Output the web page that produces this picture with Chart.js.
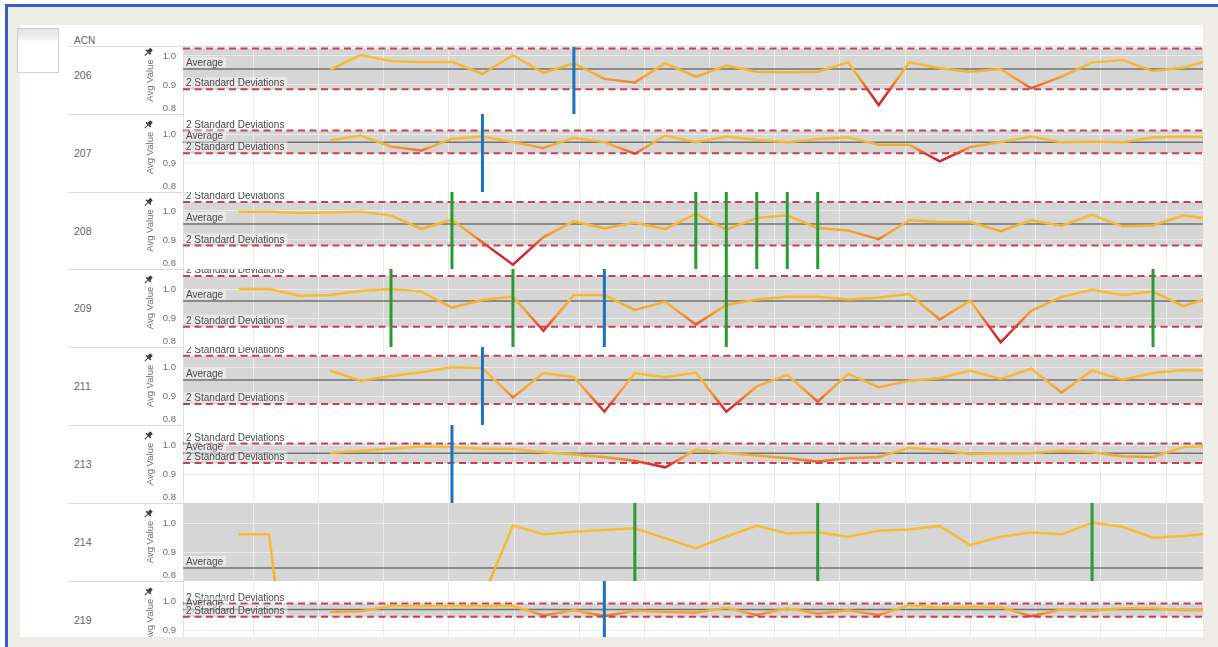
<!DOCTYPE html>
<html><head><meta charset="utf-8">
<script src="https://cdn.jsdelivr.net/npm/chart.js@4.4.1/dist/chart.umd.min.js"></script>
<style>
html,body{margin:0;padding:0;background:#fff;}
body{width:1218px;height:647px;position:relative;overflow:hidden;font-family:"Liberation Sans",Arial,sans-serif;}
#frame{position:absolute;left:5px;top:4px;width:1213px;height:643px;background:#efede8;border-left:3px solid #3b5cc4;border-top:3px solid #3b5cc4;box-sizing:border-box;}
#panel{position:absolute;left:20px;top:25px;width:1183px;height:612px;background:#fff;}
#bottomcover{position:absolute;left:8px;top:637px;width:1210px;height:10px;background:#efede8;z-index:10;}
#box{position:absolute;left:17px;top:28px;width:42px;height:45px;border:1px solid #d0d0d0;background:linear-gradient(#e2e2e2 0,#f2f2f2 10px,#fff 12px);box-sizing:border-box;}
.lbl{position:absolute;font-size:10.5px;color:#666;line-height:12px;white-space:nowrap;}
.sep{position:absolute;left:68px;height:1px;background:#dcdcdc;}
canvas{position:absolute;left:140px;}
</style></head><body>
<div id="frame"></div>
<div id="panel"></div>
<div id="bottomcover"></div>
<div id="box"></div>
<div class="lbl" style="left:74px;top:35px;font-size:10px;">ACN</div>
<script>
// ---------- data ----------
const ACN = ['206','207','208','209','211','213','214','219'];
const S206 = [null,null,null,0.952,1.003,0.983,0.979,0.980,0.938,1.003,0.942,0.975,0.921,0.909,0.975,0.929,0.967,0.946,0.944,0.946,0.978,0.831,0.978,0.958,0.946,0.955,0.889,0.929,0.978,0.986,0.948,0.960,0.990];
const S207 = [null,null,null,0.978,0.995,0.957,0.943,0.983,0.991,0.972,0.952,0.987,0.972,0.932,0.995,0.972,0.991,0.980,0.972,0.983,0.989,0.963,0.963,0.906,0.955,0.972,0.991,0.972,0.974,0.972,0.989,0.991,0.990];
const S208 = [0.997,0.997,0.993,0.995,0.997,0.985,0.938,0.970,0.892,0.815,0.910,0.964,0.941,0.959,0.938,0.990,0.936,0.976,0.985,0.941,0.933,0.903,0.968,0.962,0.962,0.930,0.968,0.949,0.987,0.947,0.950,0.985,0.970];
const S209 = [1.000,1.000,0.977,0.979,0.993,1.000,0.991,0.936,0.962,0.974,0.856,0.979,0.979,0.928,0.956,0.878,0.945,0.964,0.973,0.973,0.964,0.971,0.983,0.895,0.960,0.816,0.925,0.973,0.997,0.979,0.991,0.941,0.975];
const S211 = [null,null,null,0.988,0.953,0.969,0.982,0.999,0.996,0.895,0.979,0.965,0.846,0.979,0.965,0.981,0.846,0.933,0.973,0.881,0.976,0.930,0.953,0.961,0.988,0.959,0.994,0.912,0.988,0.956,0.979,0.990,0.987];
const S213 = [null,null,null,0.972,0.980,0.987,0.995,0.993,0.987,0.986,0.975,0.967,0.959,0.946,0.923,0.984,0.972,0.964,0.955,0.943,0.955,0.959,0.990,0.984,0.969,0.972,0.972,0.981,0.975,0.961,0.959,0.993,0.997];
const S214 = [0.961,0.961,0.12,0.25,0.35,0.42,0.48,0.55,0.74,0.991,0.961,0.970,0.976,0.982,0.947,0.913,0.953,0.990,0.964,0.968,0.953,0.973,0.978,0.990,0.924,0.953,0.967,0.961,1.001,0.987,0.949,0.955,0.965];
const S219 = [null,null,null,0.963,0.965,0.983,0.983,0.983,0.983,0.983,0.951,0.968,0.948,0.966,0.963,0.960,0.977,0.952,0.975,0.957,0.968,0.952,0.985,0.977,0.979,0.979,0.948,0.971,0.966,0.975,0.975,0.968,0.968];
const SERIES = [S206,S207,S208,S209,S211,S213,S214,S219];
const AVG       = [0.955,0.972,0.955,0.959,0.955,0.972,0.845,0.971];
const UPPER_2SD = [1.026,1.012,1.031,1.045,1.039,1.005,1.100,0.991];
const LOWER_2SD = [0.885,0.934,0.881,0.870,0.872,0.938,0.590,0.946];
const BLUE_MARKERS  = [[11],[8],[],[12],[8],[7],[],[12]];
const GREEN_MARKERS = [[],[],[7,15,16,17,18,19],[5,9,16,30],[],[],[13,19,28],[]];
const Y_MIN = [0.8,0.8,0.8,0.8,0.8,0.8,0.8,0.8];
const Y_MAX = [1.031,1.069,1.0655,1.069,1.069,1.069,1.069,1.069];
const Y_TICKS = [0.8,0.9,1.0];
const X_GRID = [0.48,2.62,4.76,6.90,9.04,11.18,13.32,15.46,17.59,19.73,21.87,24.01,26.15,28.29,30.43];
const X_MIN = -1.824, X_MAX = 31.64;

// ---------- layout ----------
const PANEL_TOP = [47,114,192,269,347,425,503,581];
const PANEL_H   = [67,78,77,78,78,78,78,78];
const LABEL_Y   = [75,153,231,308,386,464,542,620];
const FONT = '"Liberation Sans", Arial, sans-serif';

function addDiv(cls, style, text){const d=document.createElement('div');d.className=cls;d.setAttribute('style',style);if(text)d.textContent=text;document.body.appendChild(d);return d;}
addDiv('sep','top:46px;width:1135px;');
PANEL_TOP.slice(1).forEach(t=>addDiv('sep','top:'+t+'px;width:115px;'));

function lineGradient(chart, p){
  const {ctx, chartArea, scales} = chart;
  if (!chartArea || !scales.y) return '#f7b52f';
  const y = scales.y;
  const yu = y.getPixelForValue(UPPER_2SD[p]);
  const ya = y.getPixelForValue(AVG[p]);
  const yl = y.getPixelForValue(LOWER_2SD[p]);
  const yr = yl + (yl-ya)*0.4;
  const span = yr - yu;
  const g = ctx.createLinearGradient(0, yu, 0, yr);
  const f = v => Math.min(1, Math.max(0, (v - yu)/span));
  g.addColorStop(0, '#f9c131');
  g.addColorStop(f(ya), '#f7b62f');
  g.addColorStop(f(ya+(yl-ya)*0.35), '#f5a52e');
  g.addColorStop(f(ya+(yl-ya)*0.65), '#f0852d');
  g.addColorStop(f(ya+(yl-ya)*0.9), '#e6582c');
  g.addColorStop(f(yl), '#dd3d2d');
  g.addColorStop(1, '#d3262d');
  return g;
}

function drawPin(ctx, x, y){
  ctx.save(); ctx.translate(x, y); ctx.rotate(Math.PI/4);
  ctx.fillStyle = '#3c3c3c';
  ctx.fillRect(-1.8,-5,3.6,3.8);
  ctx.fillRect(-3.3,-1.4,6.6,1.6);
  ctx.fillRect(-0.5,0,1,4.5);
  ctx.restore();
}

const overlay = {
  id: 'overlay',
  afterDatasetsDraw(chart, args, opts){
    const p = opts.p;
    const {ctx, chartArea:a, scales} = chart;
    const y = scales.y;
    ctx.save();
    ctx.beginPath(); ctx.rect(a.left, a.top, a.right-a.left, a.bottom-a.top); ctx.clip();
    ctx.font = '10px ' + FONT;
    const items = [[UPPER_2SD[p],'2 Standard Deviations'],[AVG[p],'Average'],[LOWER_2SD[p],'2 Standard Deviations']];
    for (const [v, txt] of items){
      const py = y.getPixelForValue(v);
      const w = ctx.measureText(txt).width;
      ctx.fillStyle = 'rgba(255,255,255,0.45)';
      ctx.fillRect(a.left+1, py-12, w+5, 10.5);
      ctx.fillStyle = '#4a4a4a';
      ctx.textBaseline = 'alphabetic'; ctx.textAlign = 'left';
      ctx.fillText(txt, a.left+3, py-3);
    }
    ctx.restore();
  },
  afterDraw(chart, args, opts){
    const p = opts.p;
    const {ctx, chartArea:a, scales} = chart;
    const y = scales.y;
    ctx.save();
    ctx.font = '9.5px ' + FONT;
    ctx.fillStyle = '#6d6d6d';
    ctx.textAlign = 'right'; ctx.textBaseline = 'middle';
    for (const v of Y_TICKS){
      if (v < Y_MIN[p] - 1e-9 || v > Y_MAX[p] + 1e-9) continue;
      let py = y.getPixelForValue(v);
      py = Math.min(a.bottom - 6, Math.max(a.top + 5, py));
      ctx.fillText(v.toFixed(1), a.left - 7, py);
    }
    ctx.restore();
    drawPin(ctx, 8, (a.top + a.bottom)/2 - 28);
  }
};

ACN.forEach((name, p) => {
  addDiv('lbl','left:74px;top:'+(LABEL_Y[p]-6)+'px;', name);
  const cv = document.createElement('canvas');
  cv.width = 1063; cv.height = PANEL_H[p];
  cv.style.width = '1063px'; cv.style.height = PANEL_H[p]+'px';
  cv.style.top = PANEL_TOP[p]+'px';
  document.body.appendChild(cv);

  const datasets = [];
  BLUE_MARKERS[p].forEach(k => datasets.push({data:[{x:k,y:Y_MIN[p]},{x:k,y:Y_MAX[p]}], borderColor:'#1d72bd', borderWidth:3, pointRadius:0, order:0}));
  GREEN_MARKERS[p].forEach(k => datasets.push({data:[{x:k,y:Y_MIN[p]},{x:k,y:Y_MAX[p]}], borderColor:'#2a9a35', borderWidth:3, pointRadius:0, order:0}));
  datasets.push({
    data: SERIES[p].map((v,i) => v == null ? null : {x:i, y:v}).filter(Boolean),
    borderColor: c => lineGradient(c.chart, p),
    borderWidth: 2.5, pointRadius: 0, tension: 0, fill: false, order: 1
  });
  datasets.push({data:[{x:X_MIN,y:AVG[p]},{x:X_MAX,y:AVG[p]}], borderColor:'#727272', borderWidth:1.5, pointRadius:0, fill:false, order:2});
  datasets.push({data:[{x:X_MIN,y:UPPER_2SD[p]},{x:X_MAX,y:UPPER_2SD[p]}], borderColor:'#c4405c', borderDash:[7,4.5], borderWidth:2, pointRadius:0, fill:'+1', backgroundColor:'#d6d6d6', order:3});
  datasets.push({data:[{x:X_MIN,y:LOWER_2SD[p]},{x:X_MAX,y:LOWER_2SD[p]}], borderColor:'#d03a52', borderDash:[7,4.5], borderWidth:2, pointRadius:0, fill:false, order:3});

  new Chart(cv, {
    type: 'line',
    data: {datasets},
    options: {
      responsive: false, animation: false, events: [],
      layout: {padding: 0},
      plugins: {legend:{display:false}, tooltip:{enabled:false}, filler:{drawTime:'beforeDraw'}, overlay:{p}},
      scales: {
        x: {type:'linear', min:X_MIN, max:X_MAX,
            ticks:{display:false}, grid:{color:'#ebebeb', drawTicks:false, lineWidth:1}, border:{display:false},
            afterBuildTicks: s => { s.ticks = X_GRID.map(v => ({value:v})); },
            afterFit: s => { s.height = 0; }},
        y: {type:'linear', min:Y_MIN[p], max:Y_MAX[p],
            ticks:{display:false}, grid:{color:'#ebebeb', drawTicks:false, lineWidth:1}, border:{color:'#e0e0e0'},
            title:{display:true, text:'Avg Value', color:'#6d6d6d', font:{family:FONT, size:9.5}, padding:{top:4.3, bottom:0}},
            afterBuildTicks: s => { s.ticks = Y_TICKS.filter(v => v >= Y_MIN[p]-1e-9 && v <= Y_MAX[p]+1e-9).map(v => ({value:v})); },
            afterFit: s => { s.width = 43; }}
      }
    },
    plugins: [overlay]
  });
});
</script>
</body></html>
